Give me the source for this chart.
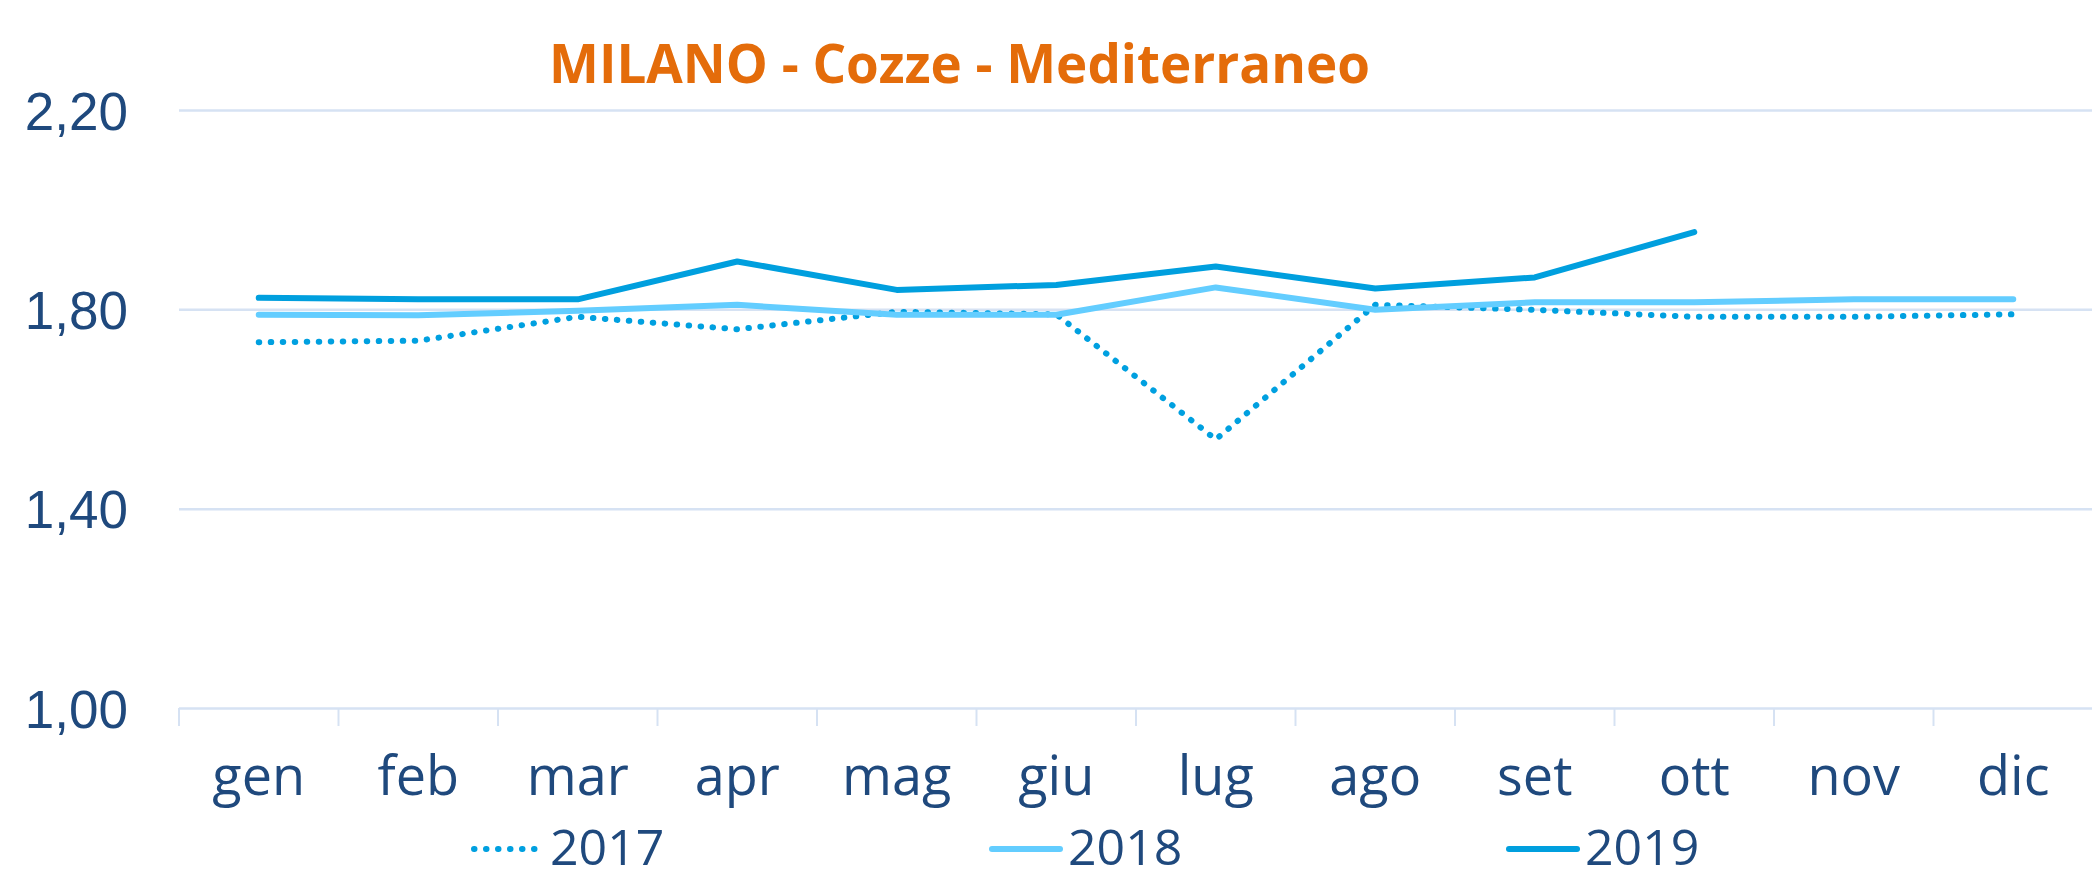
<!DOCTYPE html>
<html>
<head>
<meta charset="utf-8">
<script src="https://cdn.jsdelivr.net/npm/d3@7"></script>
<style>
  body { margin: 0; background: #fff; }
  svg { display: block; font-family: 'Open Sans', sans-serif; }
</style>
</head>
<body>
<main></main>
<script>
const months = ['gen', 'feb', 'mar', 'apr', 'mag', 'giu', 'lug', 'ago', 'set', 'ott', 'nov', 'dic'];
const values2017 = [1.734, 1.737, 1.785, 1.760, 1.795, 1.790, 1.539, 1.809, 1.799, 1.785, 1.785, 1.790];
const values2018 = [1.789, 1.788, 1.797, 1.809, 1.789, 1.789, 1.844, 1.799, 1.814, 1.814, 1.820, 1.820];
const values2019 = [1.823, 1.820, 1.820, 1.896, 1.839, 1.849, 1.886, 1.842, 1.864, 1.955];
const yTicks = [1.0, 1.4, 1.8, 2.2];
const seriesNames = ['2017', '2018', '2019'];
const title = 'MILANO - Cozze - Mediterraneo';

const dimensions = {
  width: 2092,
  height: 879,
  margin: { top: 110, right: -1, bottom: 171, left: 179 },
};
dimensions.boundedWidth =
  dimensions.width - (dimensions.margin.left + dimensions.margin.right);
dimensions.boundedHeight =
  dimensions.height - (dimensions.margin.top + dimensions.margin.bottom);

const textColor = '#1F497D';
const gridColor = '#D6E2F3';

const series = [
  { name: seriesNames[0], values: values2017, color: '#00A0E0', width: 6, dash: '0.5 11.5' },
  { name: seriesNames[1], values: values2018, color: '#63CDFF', width: 6, dash: null },
  { name: seriesNames[2], values: values2019, color: '#009FDE', width: 6, dash: null },
];

const xScale = d3
  .scaleBand()
  .domain(months)
  .range([0, dimensions.boundedWidth]);

const yScale = d3
  .scaleLinear()
  .domain([1.0, 2.2])
  .range([dimensions.boundedHeight, 0]);

const locale = d3.formatLocale({ decimal: ',', thousands: '.', grouping: [3], currency: ['€', ''] });
const fmt = locale.format('.2f');

const svg = d3
  .select('main')
  .append('svg')
  .attr('width', dimensions.width)
  .attr('height', dimensions.height);

const bounds = svg
  .append('g')
  .attr('transform', `translate(${dimensions.margin.left} ${dimensions.margin.top})`);

// y grid + labels
const yAxis = d3
  .axisLeft(yScale)
  .tickValues(yTicks)
  .tickSize(-dimensions.boundedWidth)
  .tickPadding(51)
  .tickFormat(fmt);

const yAxisGroup = bounds.append('g').call(yAxis);
yAxisGroup.select('.domain').remove();
yAxisGroup
  .selectAll('line')
  .attr('stroke', gridColor)
  .attr('stroke-width', 2.5);
yAxisGroup
  .selectAll('text')
  .attr('fill', textColor)
  .attr('font-size', 53)
  .attr('dy', '0.36em');

// x axis with ticks at band edges
const xAxisGroup = bounds
  .append('g')
  .attr('transform', `translate(0 ${dimensions.boundedHeight})`);

xAxisGroup
  .selectAll('line.sep')
  .data(months)
  .join('line')
  .attr('class', 'sep')
  .attr('x1', d => xScale(d))
  .attr('x2', d => xScale(d))
  .attr('y1', 0)
  .attr('y2', 18)
  .attr('stroke', gridColor)
  .attr('stroke-width', 2);

xAxisGroup
  .selectAll('text')
  .data(months)
  .join('text')
  .attr('x', d => xScale(d) + xScale.bandwidth() / 2)
  .attr('y', 87)
  .attr('text-anchor', 'middle')
  .attr('fill', textColor)
  .attr('font-size', 54)
  .text(d => d);

// lines
const lineGenerator = d3
  .line()
  .x((d, i) => xScale(months[i]) + xScale.bandwidth() / 2)
  .y(d => yScale(d));

series.forEach(s => {
  bounds
    .append('path')
    .attr('d', lineGenerator(s.values))
    .attr('fill', 'none')
    .attr('stroke', s.color)
    .attr('stroke-width', s.width)
    .attr('stroke-linecap', 'round')
    .attr('stroke-linejoin', 'round')
    .attr('stroke-dasharray', s.dash);
});

// title
svg
  .append('text')
  .attr('x', 549)
  .attr('y', 83)
  .attr('fill', '#E46C0A')
  .attr('font-size', 54)
  .attr('font-weight', 'bold')
  .attr('textLength', 821)
  .attr('lengthAdjust', 'spacingAndGlyphs')
  .text(title);

// legend
const legendX = [474, 992, 1509];
const legend = svg
  .append('g')
  .attr('transform', 'translate(0 849)');

series.forEach((s, i) => {
  legend
    .append('line')
    .attr('x1', legendX[i])
    .attr('x2', legendX[i] + 68)
    .attr('y1', 0)
    .attr('y2', 0)
    .attr('stroke', s.color)
    .attr('stroke-width', s.width)
    .attr('stroke-linecap', 'round')
    .attr('stroke-dasharray', s.dash);
  legend
    .append('text')
    .attr('x', legendX[i] + 76)
    .attr('y', 16)
    .attr('fill', textColor)
    .attr('font-size', 50)
    .text(s.name);
});
</script>
</body>
</html>
